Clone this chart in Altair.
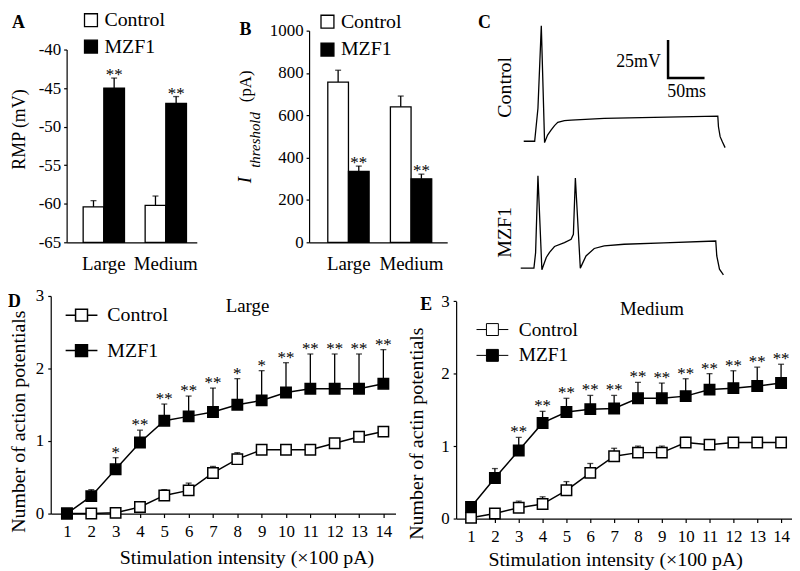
import altair as alt
import pandas as pd

SERIF = "Liberation Serif"
GROUPS = ["Control", "MZF1"]
CELL_SIZES = ["Large", "Medium"]
FILLS = ["white", "black"]

# ---------------- Panel A: resting membrane potential (mV) ----------------
rmp_control = [-60.4, -60.2]
rmp_control_sem = [0.8, 1.2]
rmp_mzf1 = [-45.0, -47.0]
rmp_mzf1_sem = [1.3, 0.9]
rmp_mzf1_sig = ["**", "**"]
rmp_ticks = [-65, -60, -55, -50, -45, -40]

# ---------------- Panel B: threshold current (pA) ----------------
ith_control = [757, 640]
ith_control_sem = [56, 51]
ith_mzf1 = [335, 300]
ith_mzf1_sem = [25, 22]
ith_mzf1_sig = ["**", "**"]
ith_ticks = [0, 200, 400, 600, 800, 1000]

# ---------------- Panel C: example traces (ms, mV) ----------------
ctrl_t = [4.1, 19.1, 23.6, 28.2, 32.7, 36.8, 41.8, 46.3, 50.8, 59.9, 69.1, 114.4, 182.6, 270.2, 271.1, 273.4, 276.6, 280.2]
ctrl_v = [-60.0, -60.0, -38.3, 15.9, -60.9, -55.9, -52.6, -49.7, -47.6, -46.4, -46.1, -45.0, -44.3, -43.5, -50.5, -57.0, -60.5, -64.2]
mzf_t = [0.0, 18.1, 20.4, 23.6, 29.0, 35.0, 39.5, 46.3, 59.9, 69.1, 72.2, 74.9, 81.7, 89.5, 100.8, 114.4, 141.7, 196.2, 267.4, 268.8, 272.5, 277.9]
mzf_v = [-45.0, -45.0, -34.8, 15.7, -46.1, -38.0, -34.6, -30.8, -28.2, -26.1, -22.8, 14.2, -45.0, -37.0, -32.1, -30.4, -29.3, -28.4, -27.2, -37.0, -45.7, -49.4]
MZF1_TRACE_SHIFT = -98.35          # vertical display offset of the lower trace (mV)
SCALEBAR_MS = 50
SCALEBAR_MV = 25
SCALEBAR_CORNER = (202.0, -18.5)   # (ms, mV) lower-left corner of the scale bar

# ---------------- Panels D / E: number of action potentials ----------------
intensity = list(range(1, 15))
large_control = [0.00, 0.00, 0.01, 0.09, 0.25, 0.32, 0.56, 0.75, 0.88, 0.88, 0.88, 0.97, 1.06, 1.13]
large_control_sem = [0.00, 0.00, 0.00, 0.04, 0.08, 0.10, 0.09, 0.09, 0.04, 0.04, 0.04, 0.04, 0.04, 0.05]
large_mzf1 = [0.00, 0.24, 0.61, 0.98, 1.28, 1.34, 1.40, 1.50, 1.56, 1.67, 1.72, 1.72, 1.72, 1.79]
large_mzf1_sem = [0.00, 0.09, 0.16, 0.17, 0.23, 0.28, 0.33, 0.36, 0.41, 0.41, 0.48, 0.48, 0.48, 0.47]
large_sig = ["", "", "*", "**", "**", "**", "**", "*", "*", "**", "**", "**", "**", "**"]

medium_control = [0.01, 0.07, 0.15, 0.20, 0.39, 0.63, 0.86, 0.91, 0.91, 1.05, 1.02, 1.05, 1.05, 1.05]
medium_control_sem = [0.00, 0.03, 0.09, 0.10, 0.12, 0.13, 0.11, 0.09, 0.09, 0.07, 0.04, 0.03, 0.03, 0.03]
medium_mzf1 = [0.16, 0.56, 0.94, 1.32, 1.47, 1.51, 1.52, 1.66, 1.66, 1.69, 1.78, 1.80, 1.83, 1.87]
medium_mzf1_sem = [0.00, 0.13, 0.18, 0.16, 0.19, 0.19, 0.18, 0.22, 0.21, 0.24, 0.22, 0.24, 0.26, 0.26]
medium_sig = ["", "", "**", "**", "**", "**", "**", "**", "**", "**", "**", "**", "**", "**"]

ap_ticks = [0, 1, 2, 3]

HYPHEN = "replace(datum.label, '\u2212', '-')"
LEGEND_PATH = "M-1,0H-0.375M-0.375,-0.375H0.375V0.375H-0.375ZM0.375,0H1"


def text_layer(label, x, y, size, weight="normal", style="normal", align="left",
               baseline="alphabetic", angle=0):
    return alt.Chart(alt.Data(values=[{"label": label}])).mark_text(
        font=SERIF, fontSize=size, fontWeight=weight, fontStyle=style,
        align=align, baseline=baseline, angle=angle, fill="black",
    ).encode(x=alt.value(x), y=alt.value(y), text=alt.Text("label:N"))


def bar_frame(ctrl, ctrl_sem, mz, mz_sem, mz_sig):
    rows = []
    for i, s in enumerate(CELL_SIZES):
        rows.append(dict(size=s, group="Control", mean=ctrl[i], top=ctrl[i] + ctrl_sem[i], sig=""))
        rows.append(dict(size=s, group="MZF1", mean=mz[i], top=mz[i] + mz_sem[i], sig=mz_sig[i]))
    return pd.DataFrame(rows)


def bar_panel(df, width, height, pad_x, align_x, pad_off, y_scale, y_axis, base, legend, extra):
    x = alt.X("size:N", sort=CELL_SIZES, title=None,
              scale=alt.Scale(paddingInner=0, paddingOuter=pad_x, align=align_x),
              axis=alt.Axis(ticks=False, labelAngle=0, labelFontSize=19, labelPadding=27,
                            labelBaseline="alphabetic"))
    xo = alt.XOffset("group:N", sort=GROUPS, scale=alt.Scale(paddingInner=0, paddingOuter=pad_off))

    def y(field):
        return alt.Y(field, scale=y_scale, axis=y_axis)

    fill = alt.Fill("group:N", sort=GROUPS, scale=alt.Scale(domain=GROUPS, range=FILLS), legend=legend)
    bar_enc = dict(x=x, xOffset=xo, y=y("mean:Q"), fill=fill)
    if base is not None:
        bar_enc["y2"] = alt.datum(base)
    bars = alt.Chart(df).mark_bar(stroke="black", strokeWidth=1.3).encode(**bar_enc)
    err = alt.Chart(df).mark_rule(color="black", strokeWidth=1.3).encode(
        x=x, xOffset=xo, y=y("mean:Q"), y2="top:Q")
    caps = alt.Chart(df).mark_tick(orient="horizontal", size=6, thickness=1.3, color="black").encode(
        x=x, xOffset=xo, y=y("top:Q"))
    stars = alt.Chart(df).mark_text(font=SERIF, fontSize=17, baseline="alphabetic", dy=2,
                                    fill="black").encode(x=x, xOffset=xo, y=y("top:Q"), text="sig:N")
    return alt.layer(bars, err, caps, stars, *extra).properties(width=width, height=height)


# ---- Panel A
dfA = bar_frame(rmp_control, rmp_control_sem, rmp_mzf1, rmp_mzf1_sem, rmp_mzf1_sig)
legA = alt.Legend(title=None, orient="none", legendX=14.5, legendY=-4.5, direction="vertical",
                  symbolType="square", symbolSize=169, symbolStrokeColor="black",
                  symbolStrokeWidth=1.3, labelFont=SERIF, labelFontSize=20, labelOffset=3.5,
                  rowPadding=6.5)
yA_scale = alt.Scale(domain=[-65, -40], range=[229, 35], nice=False, zero=False)
yA_axis = alt.Axis(values=rmp_ticks, tickSize=3, labelPadding=3, labelFontSize=17, labelExpr=HYPHEN,
                   title="RMP (mV)", titleFontSize=18, titleAngle=270, titleX=-42, titleY=115,
                   titleAlign="center", titleBaseline="alphabetic")
panelA = bar_panel(dfA, 131, 229, 0.05, 1, 0.5, yA_scale, yA_axis, -65, legA,
                   [text_layer("A", -55, 13, 18, weight="bold")])

# ---- Panel B
dfB = bar_frame(ith_control, ith_control_sem, ith_mzf1, ith_mzf1_sem, ith_mzf1_sig)
legB = alt.Legend(title=None, orient="none", legendX=8.5, legendY=-3, direction="vertical",
                  symbolType="square", symbolSize=169, symbolStrokeColor="black",
                  symbolStrokeWidth=1.3, labelFont=SERIF, labelFontSize=20, labelOffset=3.5,
                  rowPadding=8)
yB_scale = alt.Scale(domain=[0, 1000], range=[229, 16], nice=False)
yB_axis = alt.Axis(values=ith_ticks, format="d", tickSize=3, labelPadding=3, labelFontSize=17,
                   title=None)
panelB = bar_panel(dfB, 139, 229, 0.103, 0.65, 0.575, yB_scale, yB_axis, None, legB, [
    text_layer("B", -70, 20, 18, weight="bold"),
    text_layer("I", -58, 166.5, 19, style="italic", align="center", angle=270),
    text_layer("threshold", -49, 126, 15, style="italic", align="center", angle=270),
    text_layer("(pA)", -58, 72, 17, align="center", angle=270),
])

# ---- Panel C
trace_rows = [dict(trace="Control", t=t, v=v, i=i) for i, (t, v) in enumerate(zip(ctrl_t, ctrl_v))]
trace_rows += [dict(trace="MZF1", t=t, v=v, i=i) for i, (t, v) in enumerate(zip(mzf_t, mzf_v))]
dfC = pd.DataFrame(trace_rows)
c0, v0 = SCALEBAR_CORNER
dfBar = pd.DataFrame([
    dict(t=c0, vd=v0 + SCALEBAR_MV, i=0),
    dict(t=c0, vd=v0, i=1),
    dict(t=c0 + SCALEBAR_MS, vd=v0, i=2),
])
xC = alt.X("t:Q", scale=alt.Scale(domain=[53.13, 291.55], nice=False, zero=False), axis=None)
yC = alt.Y("vd:Q", scale=alt.Scale(domain=[-126.38, 23.09], nice=False, zero=False), axis=None)
traces = alt.Chart(dfC).transform_calculate(
    vd=f"datum.v + (datum.trace == 'MZF1' ? {MZF1_TRACE_SHIFT} : 0)"
).mark_line(color="black", strokeWidth=1.3).encode(x=xC, y=yC, detail="trace:N", order="i:Q")
scalebar = alt.Chart(dfBar).mark_line(color="black", strokeWidth=2.5).encode(x=xC, y=yC, order="i:Q")
panelC = alt.layer(
    traces, scalebar,
    text_layer("C", -82, 13, 18, weight="bold"),
    text_layer("Control", -55, 73, 20, align="center", baseline="middle", angle=270),
    text_layer("MZF1", -55, 219, 20, align="center", baseline="middle", angle=270),
    text_layer(f"{SCALEBAR_MV}mV", 102, 53, 18, align="right"),
    text_layer(f"{SCALEBAR_MS}ms", 128, 83, 18, align="center"),
).properties(width=175, height=229)


# ---------------- curve panels ----------------
def curve_frame(ctrl, ctrl_sem, mz, mz_sem, sig):
    rows = []
    for i, k in enumerate(intensity):
        rows.append(dict(intensity=k, group="Control", mean=ctrl[i], top=ctrl[i] + ctrl_sem[i], sig=""))
        rows.append(dict(intensity=k, group="MZF1", mean=mz[i], top=mz[i] + mz_sem[i], sig=sig[i]))
    return pd.DataFrame(rows)


def curve_panel(df, width, height, x_scale, y_range, y_offset, y_title, y_title_xy, x_title_xy,
                legend, extra):
    x = alt.X("intensity:Q", scale=x_scale,
              axis=alt.Axis(values=intensity, format="d", tickSize=4, labelPadding=6,
                            labelFontSize=17, labelOverlap=False, labelFlush=False,
                            title="Stimulation intensity (\u00d7100 pA)", titleFontSize=20,
                            titleX=x_title_xy[0], titleY=x_title_xy[1], titleAlign="center",
                            titleBaseline="alphabetic"))
    y_scale = alt.Scale(domain=[0, 3], range=y_range, nice=False, zero=False)
    y_axis = alt.Axis(values=ap_ticks, format="d", tickSize=3, labelPadding=4, labelFontSize=17,
                      offset=y_offset, title=y_title, titleFontSize=20, titleAngle=270,
                      titleX=y_title_xy[0], titleY=y_title_xy[1], titleAlign="center",
                      titleBaseline="alphabetic")

    def y(field):
        return alt.Y(field, scale=y_scale, axis=y_axis)

    fill = alt.Fill("group:N", sort=GROUPS, scale=alt.Scale(domain=GROUPS, range=FILLS), legend=legend)
    line = alt.Chart(df).mark_line(color="black", strokeWidth=1.5).encode(
        x=x, y=y("mean:Q"), detail="group:N")
    err = alt.Chart(df).mark_rule(color="black", strokeWidth=1.3).encode(x=x, y=y("mean:Q"), y2="top:Q")
    caps = alt.Chart(df).mark_tick(orient="horizontal", size=6, thickness=1.3, color="black").encode(
        x=x, y=y("top:Q"))
    pts = alt.Chart(df).mark_square(size=110, stroke="black", strokeWidth=1.5, opacity=1).encode(
        x=x, y=y("mean:Q"), fill=fill)
    stars = alt.Chart(df).mark_text(font=SERIF, fontSize=17, baseline="alphabetic", dy=0,
                                    fill="black").encode(x=x, y=y("top:Q"), text="sig:N")
    return alt.layer(line, err, caps, pts, stars, *extra).properties(width=width, height=height)


dfD = curve_frame(large_control, large_control_sem, large_mzf1, large_mzf1_sem, large_sig)
legD = alt.Legend(title=None, orient="none", legendX=-2, legendY=6.3, direction="vertical",
                  symbolType=LEGEND_PATH, symbolSize=1024, symbolStrokeColor="black",
                  symbolStrokeWidth=1.5, labelFont=SERIF, labelFontSize=20, labelOffset=9,
                  rowPadding=8.7)
panelD = curve_panel(
    dfD, 331, 223,
    alt.Scale(domain=[0.334, 14.5], range=[-16, 331], nice=False, zero=False),
    [223, 4], 16, "Number of action potentials", (-26, 130), (181, 50), legD,
    [text_layer("D", -59, 15, 18, weight="bold"),
     text_layer("Large", 182, 20, 19, align="center")])

dfE = curve_frame(medium_control, medium_control_sem, medium_mzf1, medium_mzf1_sem, medium_sig)
legE = alt.Legend(title=None, orient="none", legendX=20, legendY=21.3, direction="vertical",
                  symbolType=LEGEND_PATH, symbolSize=1024, symbolStrokeColor="black",
                  symbolStrokeWidth=1.0, labelFont=SERIF, labelFontSize=19.5, labelOffset=10,
                  rowPadding=0)
panelE = curve_panel(
    dfE, 338, 228,
    alt.Scale(domain=[0.375, 14.458], nice=False, zero=False),
    [228, 9.3], 0, "Number of actin potentials", (-34, 142), (160, 47), legE,
    [text_layer("E", -36, 18, 18, weight="bold"),
     text_layer("Medium", 197, 23, 19, align="center")])

top = alt.hconcat(panelA, panelB, panelC, spacing=113, bounds="flush").resolve_scale(fill="independent")
bottom = alt.hconcat(panelD, panelE, spacing=61, bounds="flush").resolve_scale(fill="independent")

# with flush bounds the nested rows count as zero height, so the spacing is the row offset
ROW_OFFSET = 229 + 50

chart = (
    alt.vconcat(top, bottom, spacing=ROW_OFFSET, bounds="flush")
    .resolve_scale(fill="independent")
    .properties(padding=0)
    .configure(font=SERIF)
    .configure_view(stroke=None)
    .configure_axis(labelFont=SERIF, titleFont=SERIF, domainColor="black", tickColor="black",
                    labelColor="black", titleColor="black", domainWidth=1.2, tickWidth=1.2,
                    grid=False, titleFontWeight="normal")
    .configure_legend(labelFont=SERIF, labelColor="black")
)

chart.save("out.html", embed_options={"renderer": "svg", "actions": False})
